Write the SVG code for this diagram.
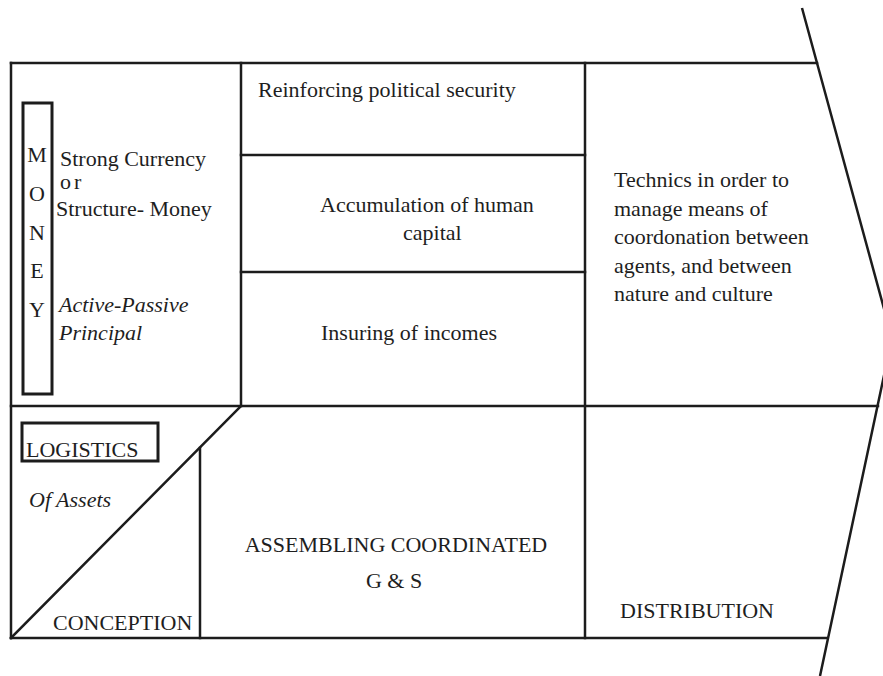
<svg xmlns="http://www.w3.org/2000/svg" width="883" height="676" viewBox="0 0 883 676">
<style>
  .ln { stroke: #1c1c1c; stroke-width: 2.5; fill: none; stroke-linecap: square; }
  .bx { stroke: #1c1c1c; stroke-width: 3; fill: none; }
  .t { font-family: "Liberation Serif", "Times New Roman", serif; font-size: 22px; fill: #1e1e1e; }
  .i { font-style: italic; }
  .m { text-anchor: middle; }
</style>
<rect width="883" height="676" fill="#ffffff"/>
<g id="connectors">
  <line class="ln" x1="11" y1="63" x2="817" y2="63"/>
  <line class="ln" x1="11" y1="406" x2="878" y2="406"/>
  <line class="ln" x1="11" y1="638" x2="827" y2="638"/>
  <line class="ln" x1="11" y1="63" x2="11" y2="638"/>
  <line class="ln" x1="241" y1="63" x2="241" y2="406"/>
  <line class="ln" x1="585" y1="63" x2="585" y2="638"/>
  <line class="ln" x1="241" y1="155" x2="585" y2="155"/>
  <line class="ln" x1="241" y1="272" x2="585" y2="272"/>
  <line class="ln" x1="11" y1="638" x2="241" y2="406"/>
  <line class="ln" x1="200" y1="448" x2="200" y2="638"/>
  <polyline class="ln" style="stroke-linecap:butt" points="802,8 892,338 820,676"/>
</g>
<g id="money">
  <rect class="bx" x="23" y="103" width="29" height="291"/>
  <text class="t m" x="37" y="162">M</text>
  <text class="t m" x="37" y="201">O</text>
  <text class="t m" x="37" y="240">N</text>
  <text class="t m" x="37" y="278">E</text>
  <text class="t m" x="37" y="317">Y</text>
</g>
<g id="currency">
  <text class="t" x="60" y="166">Strong Currency</text>
  <text class="t" x="60" y="189" letter-spacing="3">or</text>
  <text class="t" x="56" y="216">Structure- Money</text>
  <text class="t i" x="59" y="312">Active-Passive</text>
  <text class="t i" x="59" y="340">Principal</text>
</g>
<g id="security">
  <text class="t" x="258" y="97">Reinforcing political security</text>
</g>
<g id="human-capital">
  <text class="t" x="320" y="212">Accumulation of human</text>
  <text class="t" x="403" y="240">capital</text>
</g>
<g id="incomes">
  <text class="t" x="321" y="340">Insuring of incomes</text>
</g>
<g id="technics">
  <text class="t" x="614" y="187">Technics in order to</text>
  <text class="t" x="614" y="215.5">manage means of</text>
  <text class="t" x="614" y="244">coordonation between</text>
  <text class="t" x="614" y="272.5">agents, and between</text>
  <text class="t" x="614" y="301">nature and culture</text>
</g>
<g id="logistics">
  <rect class="bx" x="22" y="423" width="136" height="38"/>
  <text class="t" x="26" y="457">LOGISTICS</text>
  <text class="t i" x="29" y="507">Of Assets</text>
</g>
<g id="conception">
  <text class="t" x="53" y="630">CONCEPTION</text>
</g>
<g id="assembling">
  <text class="t m" x="396" y="552">ASSEMBLING COORDINATED</text>
  <text class="t m" x="394" y="588">G &amp; S</text>
</g>
<g id="distribution">
  <text class="t" x="620" y="618">DISTRIBUTION</text>
</g>
</svg>
